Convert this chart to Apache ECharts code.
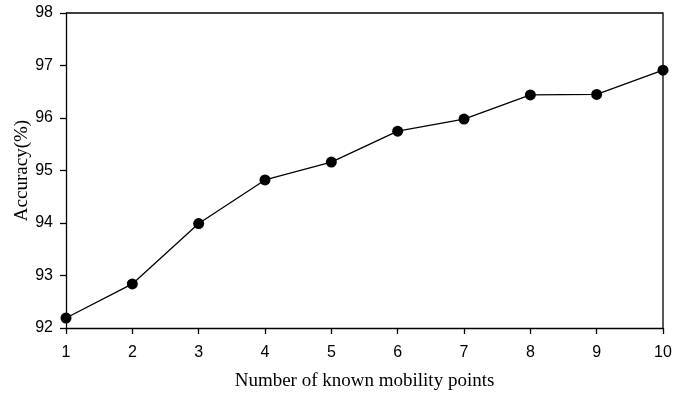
<!DOCTYPE html>
<html>
<head>
<meta charset="utf-8">
<script src="https://cdn.jsdelivr.net/npm/echarts@6/dist/echarts.min.js"></script>
<style>
  html, body { margin: 0; padding: 0; background: #fff; }
  #main { width: 687px; height: 396px; }
</style>
</head>
<body>
<div id="main"></div>
<script>
// data
var knownPoints = [1, 2, 3, 4, 5, 6, 7, 8, 9, 10];
var accuracy = [92.19, 92.84, 93.99, 94.82, 95.16, 95.75, 95.98, 96.44, 96.45, 96.91];

var chart = echarts.init(document.getElementById('main'));

var seriesData = [];
for (var i = 0; i < knownPoints.length; i++) {
    seriesData.push([knownPoints[i], accuracy[i]]);
}

var axisText = { color: '#000', fontFamily: 'Liberation Sans', fontSize: 16 };
var axisLine = { show: true, onZero: false, lineStyle: { color: '#000', width: 1.3 } };
var titleText = { color: '#000', fontFamily: 'Liberation Serif', fontSize: 19 };

option = {
    animation: false,
    backgroundColor: '#fff',
    grid: { left: 66, right: 24, top: 13, bottom: 68 },
    xAxis: {
        type: 'value',
        min: 1,
        max: 10,
        interval: 1,
        name: 'Number of known mobility points',
        nameLocation: 'middle',
        nameGap: 44,
        nameTextStyle: titleText,
        axisLine: axisLine,
        axisTick: { show: true, inside: false, length: 6, lineStyle: { color: '#000', width: 1.3 } },
        axisLabel: Object.assign({ margin: 17 }, axisText),
        splitLine: { show: false }
    },
    yAxis: {
        type: 'value',
        min: 92,
        max: 98,
        interval: 1,
        name: 'Accuracy(%)',
        nameLocation: 'middle',
        nameGap: 34,
        nameMoveOverlap: false,
        nameTextStyle: titleText,
        axisLine: axisLine,
        axisTick: { show: true, inside: false, length: 6, lineStyle: { color: '#000', width: 1.3 } },
        axisLabel: Object.assign({ margin: 13 }, axisText),
        splitLine: { show: false }
    },
    series: [{
        type: 'line',
        data: seriesData,
        symbol: 'circle',
        symbolSize: 11,
        lineStyle: { color: '#000', width: 1.3 },
        itemStyle: { color: '#000' }
    }],
    graphic: [{
        // frame on the top and right sides
        type: 'polyline',
        shape: { points: [[66, 13], [663, 13], [663, 328]] },
        style: { stroke: '#000', lineWidth: 1.3, fill: null },
        z: 10
    }]
};

chart.setOption(option);
</script>
</body>
</html>
